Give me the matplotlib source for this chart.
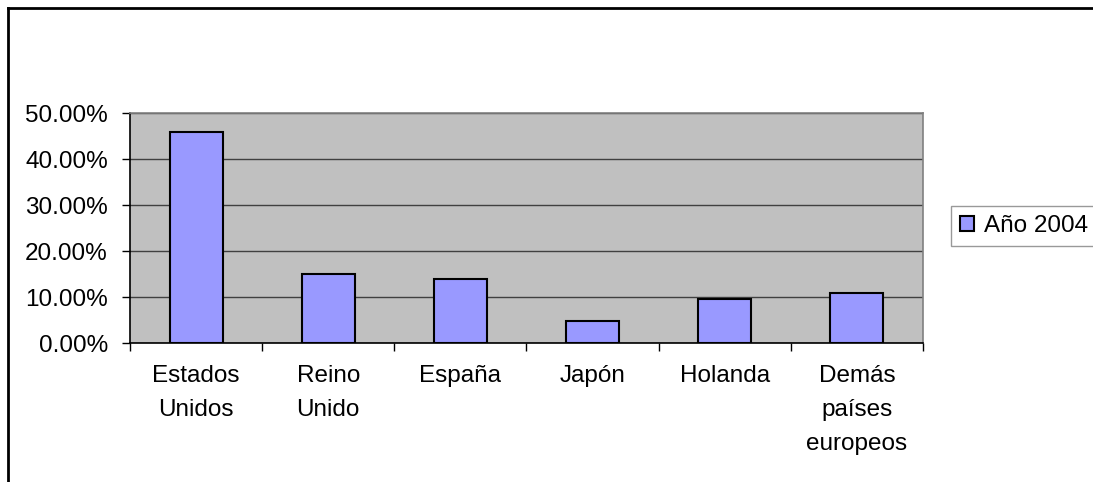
import matplotlib.pyplot as plt
from matplotlib.lines import Line2D
from matplotlib.ticker import FuncFormatter
import numpy as np

paises = ['Estados\nUnidos', 'Reino\nUnido', 'España', 'Japón', 'Holanda', 'Demás\npaíses\neuropeos']
valores = [45.9, 14.9, 13.9, 4.7, 9.5, 10.8]
serie = 'Año 2004'

plt.rcParams['font.family'] = ['Liberation Sans', 'DejaVu Sans']

fig = plt.figure(figsize=(10.93, 4.82), dpi=100)
ax = fig.add_axes([130 / 1093, 1 - 343 / 482, 793 / 1093, 230 / 482])
ax.set_facecolor('#C0C0C0')

x = np.arange(len(paises))
ax.bar(x, valores, width=0.4, color='#9999FF', edgecolor='black', linewidth=1.5,
       label=serie, zorder=3)

ax.set_xlim(-0.5, len(paises) - 0.5)
ax.set_ylim(0, 50)
ax.set_yticks(np.arange(0, 51, 10))
ax.yaxis.set_major_formatter(FuncFormatter(lambda v, p: '%.2f%%' % v))
ax.grid(axis='y', color='#404040', linewidth=1, zorder=1)

ax.set_xticks(x)
ax.set_xticklabels(paises, fontsize=17.5, linespacing=1.7, va='top')
ax.set_xticks(np.arange(-0.5, len(paises)), minor=True)
ax.tick_params(axis='x', which='major', length=0, pad=16)
ax.tick_params(axis='x', which='minor', length=6, width=1, color='black')
ax.tick_params(axis='y', labelsize=17.5, length=6, width=1, pad=10)

for s in ['top', 'right']:
    ax.spines[s].set_color('#808080')
    ax.spines[s].set_linewidth(1.2)
for s in ['left', 'bottom']:
    ax.spines[s].set_color('black')
    ax.spines[s].set_linewidth(1.2)

leg = fig.legend(loc='center left', bbox_to_anchor=(951 / 1093, 1 - 226 / 482),
                 fontsize=17.5, frameon=True, fancybox=False, edgecolor='#808080',
                 handlelength=0.6, handleheight=0.6, handletextpad=0.4,
                 borderpad=0.35, borderaxespad=0)
leg.get_frame().set_linewidth(1)

# chart frame (only top and left edges visible)
fig.add_artist(Line2D([7.5 / 1093, 1], [1 - 7.5 / 482] * 2, color='black', linewidth=2,
                      transform=fig.transFigure))
fig.add_artist(Line2D([7.5 / 1093] * 2, [0, 1 - 7.5 / 482], color='black', linewidth=2,
                      transform=fig.transFigure))

fig.savefig('out.png', dpi=100)
